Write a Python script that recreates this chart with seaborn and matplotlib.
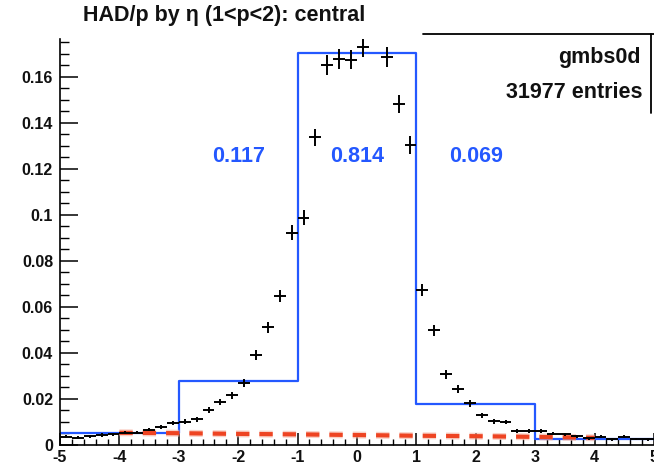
import numpy as np
import pandas as pd
import matplotlib
matplotlib.use("Agg")
import matplotlib.pyplot as plt
import matplotlib.patheffects as pe
from matplotlib.lines import Line2D
import seaborn as sns

# ---------------- data ----------------
title = "HAD/p by \u03b7 (1<p<2): central"
dataset_name = "gmbs0d"
n_entries = 31977

# fine histogram (50 bins of 0.2 in eta), black points
eta_edges = np.linspace(-5, 5, 51)
eta_centers = 0.5 * (eta_edges[:-1] + eta_edges[1:])
had_values = [
    0.0035, 0.0030, 0.0037, 0.0042, 0.0045, 0.0052, 0.0052, 0.0066, 0.0076, 0.0095,
    0.0100, 0.0110, 0.0150, 0.0185, 0.0214, 0.0270, 0.0390, 0.0510, 0.0645, 0.0922,
    0.0987, 0.1337, 0.1652, 0.1677, 0.1675, 0.1728, 0.1850, 0.1686, 0.1481, 0.1303,
    0.0673, 0.0497, 0.0306, 0.0243, 0.0180, 0.0127, 0.0102, 0.0099, 0.0060, 0.0060,
    0.0060, 0.0048, 0.0045, 0.0037, 0.0028, 0.0034, 0.0023, 0.0035, 0.0026, 0.0023,
]
err_scale = 1.08e-4  # statistical error: sqrt(value * scale)

# coarse regions (blue histogram)
region_edges = [-5, -3, -1, 1, 3, 5]
region_centers = [-4, -2, 0, 2, 4]
region_values = [0.0052, 0.0278, 0.1704, 0.0179, 0.0026]

# region fractions (blue labels)
frac_x = [-2, 0, 2]
frac_labels = ["0.117", "0.814", "0.069"]
frac_y = 0.1255

# red dashed background curve
bkg_x = [-4, -3, -2, -1, 0, 1, 2, 3, 4]
bkg_y = [0.0052, 0.0050, 0.0047, 0.0045, 0.0042, 0.0039, 0.0037, 0.0034, 0.0030]

x_ticks = [-5, -4, -3, -2, -1, 0, 1, 2, 3, 4, 5]
x_ticklabels = ["-5", "-4", "-3", "-2", "-1", "0", "1", "2", "3", "4", "5"]
y_ticks = [0, 0.02, 0.04, 0.06, 0.08, 0.10, 0.12, 0.14, 0.16]
y_ticklabels = ["0", "0.02", "0.04", "0.06", "0.08", "0.1", "0.12", "0.14", "0.16"]

# ---------------- style ----------------
sns.set_style("ticks")
plt.rcParams["font.family"] = ["Liberation Sans", "DejaVu Sans"]

BLUE = "#2458ff"
RED = "#ee4422"

W, H = 654, 468
fig = plt.figure(figsize=(W / 100, H / 100), dpi=100)
ax = fig.add_axes([60 / W, (H - 444.7) / H, (654 - 60) / W, (444.7 - 39.3) / H])

df_fine = pd.DataFrame({"eta": eta_centers, "val": had_values})
df_fine["err"] = np.sqrt(df_fine["val"] * err_scale)
df_reg = pd.DataFrame({"eta": region_centers, "val": region_values})
df_bkg = pd.DataFrame({"eta": bkg_x, "val": bkg_y})

# blue coarse histogram
sns.histplot(data=df_reg, x="eta", weights="val", bins=region_edges,
             element="step", fill=False, color=BLUE, linewidth=1.6, ax=ax)

# red dashed background
sns.lineplot(data=df_bkg, x="eta", y="val", color=RED, linewidth=3.0,
             linestyle=(0, (3.2, 2.4)), ax=ax,
             path_effects=[pe.Stroke(linewidth=5.0, foreground="#f6b3a3", alpha=0.6), pe.Normal()])

# black points with error bars
ax.errorbar(df_fine["eta"], df_fine["val"], xerr=0.1, yerr=df_fine["err"],
            fmt="none", ecolor="black", elinewidth=1.4, capsize=0, zorder=5)

ax.set_xlim(-5, 5)
ax.set_ylim(0, 0.1763)
ax.set_xlabel("")
ax.set_ylabel("")

ax.set_xticks(x_ticks)
ax.set_xticklabels(x_ticklabels)
ax.set_yticks(y_ticks)
ax.set_yticklabels(y_ticklabels)
ax.xaxis.set_minor_locator(matplotlib.ticker.MultipleLocator(0.2))
ax.yaxis.set_minor_locator(matplotlib.ticker.MultipleLocator(0.005))

for lab in ax.get_xticklabels() + ax.get_yticklabels():
    lab.set_fontweight("bold")
    lab.set_fontsize(11.5)
    lab.set_color("#111111")

ax.tick_params(axis="x", which="major", direction="in", length=9, width=1.1, pad=4, color="black")
ax.tick_params(axis="x", which="minor", direction="in", length=4.5, width=1.0, color="black")
ax.tick_params(axis="y", which="major", direction="in", length=13, width=1.1, pad=5, color="black")
ax.tick_params(axis="y", which="minor", direction="in", length=6.5, width=1.0, color="black")

for s in ["top", "right"]:
    ax.spines[s].set_visible(False)
for s in ["left", "bottom"]:
    ax.spines[s].set_linewidth(1.2)
    ax.spines[s].set_color("black")

# blue fraction labels
for xv, txt in zip(frac_x, frac_labels):
    ax.text(xv, frac_y, txt, color=BLUE, fontsize=15.5, fontweight="bold",
            ha="center", va="center")

# title
fig.text(83 / W, (H - 15) / H, title, fontsize=15.5, fontweight="bold",
         ha="left", va="center", color="#111111")

# stats box (top and right border) with text
fig.add_artist(Line2D([423 / W, 1.0], [(H - 33.5) / H, (H - 33.5) / H],
                      color="black", linewidth=1.3, transform=fig.transFigure))
fig.add_artist(Line2D([651 / W, 651 / W], [(H - 33.5) / H, (H - 113) / H],
                      color="black", linewidth=1.3, transform=fig.transFigure))
fig.text(641 / W, (H - 57) / H, dataset_name, fontsize=15.5, ha="right", va="center",
         color="#111111", fontweight="bold")
fig.text(643 / W, (H - 92) / H, f"{n_entries} entries", fontsize=15.5, ha="right",
         va="center", color="#111111", fontweight="bold")

fig.savefig("out.png", dpi=100)
